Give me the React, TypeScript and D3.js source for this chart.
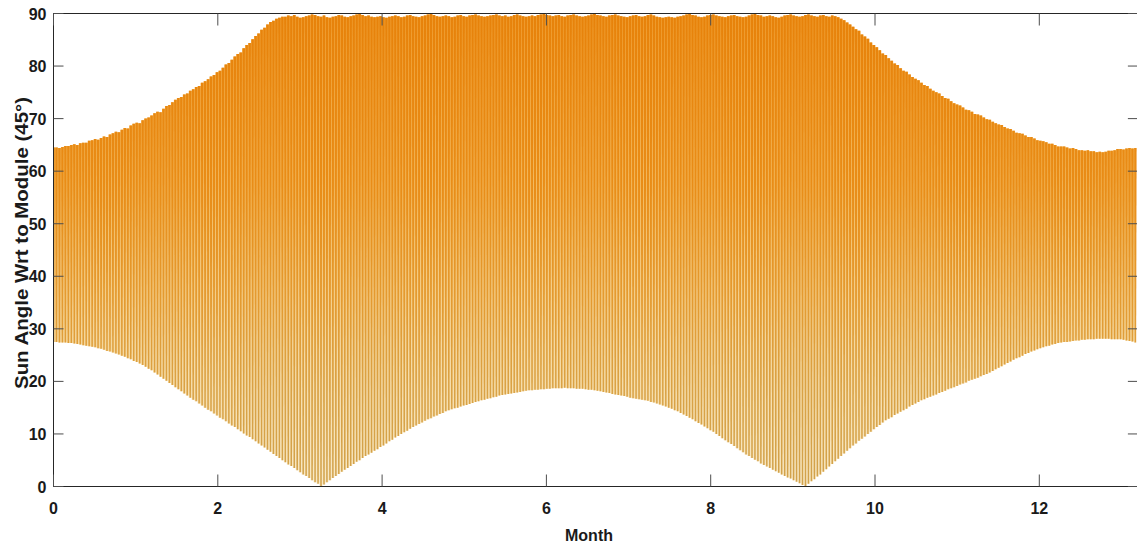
import React from 'react';
import * as d3 from 'd3';

// month axis and angle axis
const xTicks = [0, 2, 4, 6, 8, 10, 12];
const yTicks = [0, 10, 20, 30, 40, 50, 60, 70, 80, 90];
const monthMax = 13.2;
const lastSampleMonth = 13.17;

// daily peak sun angle (deg)
const upperAngle = [
  64.5, 64.5, 64.4, 64.6, 64.8, 64.8, 65.0,
  65.1, 65.0, 65.3, 65.4, 65.4, 65.8, 65.9,
  66.1, 66.0, 66.3, 66.6, 66.5, 67.0, 67.2,
  67.5, 67.4, 67.9, 68.2, 68.1, 68.7, 69.0,
  69.2, 69.1, 69.7, 70.0, 70.2, 70.6, 71.0,
  71.3, 71.2, 71.9, 72.4, 72.6, 73.1,
  73.6, 73.9, 74.1, 74.6, 74.8, 75.3, 75.6,
  76.0, 76.2, 76.8, 77.1, 77.5, 78.0, 78.3,
  78.8, 79.1, 79.7, 80.3, 80.6, 81.2, 81.8,
  82.3, 82.6, 83.4, 84.0, 84.4, 85.1, 85.7,
  86.2, 86.9, 87.3, 87.9, 88.4, 88.6,
  89.0, 89.2, 89.4, 89.4,
  89.6, 89.5, 89.7, 89.4, 89.2, 89.3, 89.5, 89.6, 89.8, 89.7,
  89.5, 89.4, 89.6, 89.3, 89.2, 89.4, 89.5, 89.7, 89.6, 89.4,
  89.3, 89.5, 89.6, 89.8, 89.9, 89.7, 89.5, 89.6, 89.4, 89.3,
  89.4, 89.5, 89.3, 89.2, 89.4, 89.5, 89.6, 89.5, 89.3, 89.4,
  89.6, 89.7, 89.5, 89.4, 89.3, 89.5, 89.6, 89.8, 89.9, 89.7,
  89.5, 89.4, 89.5, 89.6, 89.5, 89.3, 89.4, 89.6, 89.7, 89.5,
  89.4, 89.6, 89.7, 89.8, 89.6, 89.5, 89.4, 89.5, 89.6, 89.7,
  89.8, 89.6, 89.5, 89.6, 89.4, 89.5, 89.7, 89.8, 89.6, 89.5,
  89.4, 89.5, 89.6, 89.5, 89.7, 89.8, 89.9, 89.7, 89.6, 89.5,
  89.6, 89.7, 89.5, 89.4, 89.6, 89.7, 89.8, 89.6, 89.5, 89.4,
  89.5, 89.6, 89.8, 89.9, 89.7, 89.6, 89.5, 89.4, 89.6, 89.7,
  89.8, 89.6, 89.5, 89.4, 89.3, 89.5, 89.6, 89.7, 89.5, 89.4,
  89.5, 89.7, 89.8, 89.6, 89.4, 89.3, 89.2, 89.3, 89.4, 89.3,
  89.2, 89.4, 89.5, 89.6, 89.8, 89.9, 89.7, 89.6, 89.4, 89.3,
  89.4, 89.6, 89.7, 89.8, 89.6, 89.5, 89.4, 89.3, 89.5, 89.6,
  89.7, 89.5, 89.4, 89.3, 89.4, 89.6, 89.8, 89.9, 89.7, 89.6,
  89.4, 89.5, 89.6, 89.5, 89.3, 89.2, 89.4, 89.6, 89.7, 89.8,
  89.6, 89.5, 89.4, 89.5, 89.7, 89.8, 89.6, 89.5, 89.4, 89.6,
  89.7, 89.5, 89.4, 89.6, 89.5, 89.3, 89.0,
  88.7, 88.3, 87.9,
  87.5, 87.0, 86.7, 86.0, 85.6, 85.2, 84.5,
  84.0, 83.6, 83.0, 82.4, 82.1, 81.5, 81.0,
  80.5, 80.2, 79.6, 79.1, 78.9, 78.4, 77.9,
  77.6, 77.3, 76.8, 76.4, 76.2, 75.7, 75.3,
  75.0, 74.8, 74.3, 73.9, 73.8, 73.3, 72.9,
  72.7, 72.5, 72.1, 71.7, 71.6, 71.3, 70.9,
  70.8, 70.6, 70.2, 69.9, 69.8, 69.4, 69.1,
  68.9, 68.8, 68.4, 68.1, 68.0, 67.7, 67.3,
  67.2, 67.1, 66.8, 66.5, 66.5, 66.2, 65.9,
  65.8, 65.7, 65.5, 65.2, 65.2, 65.0, 64.7,
  64.7, 64.7, 64.5, 64.3, 64.4, 64.2, 64.0,
  64.0, 63.9, 64.0, 63.8, 63.8, 63.6,
  63.7, 63.6, 63.7, 63.9, 63.9, 64.0, 64.2,
  64.2, 64.1, 64.3, 64.4, 64.3, 64.4,
];

// daily low sun angle (deg)
const lowerAngle = [
  27.5, 27.5, 27.4, 27.4, 27.4, 27.3, 27.3,
  27.2, 27.1, 27.0, 26.9, 26.8, 26.7, 26.6,
  26.5, 26.3, 26.2, 26.0, 25.8, 25.7, 25.5,
  25.3, 25.1, 24.9, 24.7, 24.4, 24.2, 23.9,
  23.7, 23.4, 23.1, 22.8, 22.4, 22.1, 21.7, 21.3,
  20.9, 20.5, 20.1, 19.7, 19.3,
  18.9, 18.5, 18.1, 17.7, 17.3, 16.9, 16.5, 16.2,
  15.8, 15.4, 15.0, 14.6, 14.3, 13.9,
  13.5, 13.1, 12.8, 12.4, 12.0, 11.6, 11.3,
  10.9, 10.5, 10.1, 9.7, 9.4, 9.0, 8.6,
  8.2, 7.8, 7.4, 7.0, 6.6, 6.2, 5.8,
  5.4, 5.0, 4.6, 4.2, 3.9, 3.5, 3.1,
  2.7, 2.3, 2.0, 1.6, 1.2, 0.8, 0.5,
  0.1, 0.4, 0.8, 1.2, 1.6, 2.0, 2.4,
  2.8, 3.2, 3.5, 3.9, 4.3, 4.7, 5.0,
  5.4, 5.8, 6.1, 6.4, 6.8, 7.1, 7.5,
  7.8, 8.2, 8.6, 8.9, 9.3, 9.6,
  10.0, 10.3, 10.6, 11.0, 11.3, 11.6, 11.9,
  12.2, 12.5, 12.8, 13.0, 13.3, 13.5, 13.8, 14.0, 14.3,
  14.5, 14.7, 14.9, 15.0, 15.2, 15.4, 15.5, 15.7,
  15.9, 16.1, 16.2, 16.4, 16.5, 16.7, 16.8, 17.0, 17.1,
  17.3, 17.4, 17.5, 17.6, 17.7, 17.8, 17.9, 18.0, 18.1, 18.2,
  18.3, 18.3, 18.4, 18.4, 18.5, 18.5, 18.6, 18.6, 18.7,
  18.7, 18.7, 18.7, 18.8, 18.7, 18.7, 18.7, 18.6,
  18.6, 18.6, 18.5, 18.4, 18.4, 18.3, 18.2, 18.1,
  18.0, 17.9, 17.8, 17.6, 17.5, 17.4,
  17.3, 17.2, 17.1, 16.9,
  16.8, 16.7, 16.6, 16.5, 16.4, 16.3, 16.1,
  16.0, 15.8, 15.6, 15.4, 15.2,
  15.0, 14.8, 14.5, 14.3, 14.0, 13.7,
  13.4, 13.1, 12.8, 12.4, 12.1,
  11.8, 11.4, 11.1, 10.7, 10.4, 10.0,
  9.6, 9.2, 8.8, 8.4, 8.1,
  7.7, 7.3, 6.9, 6.5, 6.1, 5.8,
  5.4, 5.1, 4.8, 4.4, 4.1, 3.8, 3.5,
  3.2, 2.9, 2.6, 2.3, 2.0, 1.7, 1.5,
  1.2, 0.9, 0.6, 0.3,
  0.1, 0.5, 1.0, 1.4, 1.9, 2.3, 2.8,
  3.3, 3.8, 4.3, 4.8, 5.3, 5.8, 6.3, 6.8, 7.3,
  7.8, 8.2, 8.7, 9.1, 9.5, 10.0, 10.4, 10.9, 11.3, 11.7, 12.2,
  12.6, 12.9, 13.2, 13.6, 13.9, 14.2, 14.5, 14.8, 15.2, 15.5, 15.8, 16.1,
  16.4, 16.6, 16.9, 17.1, 17.3, 17.5, 17.8, 18.0, 18.2, 18.5, 18.7,
  18.9, 19.1, 19.4, 19.6, 19.8, 20.1, 20.3, 20.5, 20.7, 21.0, 21.2,
  21.4, 21.7, 22.0, 22.3, 22.6, 22.9, 23.2, 23.5, 23.8, 24.1, 24.4,
  24.6, 24.9, 25.2, 25.4, 25.7, 25.9, 26.1,
  26.3, 26.5, 26.7, 26.8, 27.0, 27.1, 27.3,
  27.4, 27.5, 27.5, 27.6, 27.7, 27.8, 27.8,
  27.9, 27.9, 28.0, 28.0, 28.0, 28.1,
  28.1, 28.1, 28.1, 28.1, 28.0, 28.0, 28.0,
  28.0, 27.9, 27.8, 27.7, 27.6, 27.4,
];

const font = '"Liberation Sans", Arial, Helvetica, sans-serif';

export default function App() {
  const width = 1137;
  const height = 547;
  const left = 53.5, top = 13.5, bottom = 486.5;
  const right = left + monthMax * 82.15;

  const x = d3.scaleLinear().domain([0, monthMax]).range([left, right]);
  const y = d3.scaleLinear().domain([0, 90]).range([bottom, top]);

  const n = Math.min(upperAngle.length, lowerAngle.length);
  const step = lastSampleMonth / (n - 1);
  const days = d3.range(n).map(i => ({ month: i * step, lo: lowerAngle[i], hi: upperAngle[i] }));
  const dx = x(step) - x(0);

  const band = d3.area<any>()
    .x(d => x(d.month))
    .y0(d => y(d.lo))
    .y1(d => y(d.hi))
    .curve(d3.curveStep);

  // each day drawn as a thin spike from the low to the peak angle
  const wTop = dx * 0.8;
  const wBot = dx * 0.5;
  const spike = (d: any) => {
    const cx = x(d.month);
    const yl = y(d.lo), yh = y(d.hi);
    return `M${cx - wBot / 2},${yl}L${cx - wTop / 2},${yh}L${cx + wTop / 2},${yh}L${cx + wBot / 2},${yl}Z`;
  };

  return (
    <svg width={width} height={height} style={{ position: 'absolute', left: 0, top: 0, background: '#fff' }}>
      <defs>
        <linearGradient id="barFill" gradientUnits="userSpaceOnUse" x1="0" x2="0" y1={top} y2={bottom}>
          <stop offset="0%" stopColor="#e7820a" />
          <stop offset="35%" stopColor="#e98c16" />
          <stop offset="60%" stopColor="#e49a30" />
          <stop offset="80%" stopColor="#d9a246" />
          <stop offset="100%" stopColor="#d1a24c" />
        </linearGradient>
        <linearGradient id="gapFill" gradientUnits="userSpaceOnUse" x1="0" x2="0" y1={top} y2={bottom}>
          <stop offset="0%" stopColor="#f2a63c" />
          <stop offset="40%" stopColor="#f3bc62" />
          <stop offset="70%" stopColor="#f5d89e" />
          <stop offset="100%" stopColor="#f8e9c6" />
        </linearGradient>
        <clipPath id="plotClip">
          <rect x={left} y={top - 1} width={right - left} height={bottom - top + 1} />
        </clipPath>
      </defs>

      <g clipPath="url(#plotClip)">
        <path d={band(days) as string} fill="url(#gapFill)" />
        {days.map((d, i) => (
          <path key={i} d={spike(d)} fill="url(#barFill)" />
        ))}
      </g>

      {/* box */}
      <rect x={left} y={top} width={right - left} height={bottom - top} fill="none" stroke="#262626" strokeWidth={1} />

      {/* x ticks, top and bottom */}
      {xTicks.map(t => (
        <g key={'x' + t}>
          <line x1={x(t)} x2={x(t)} y1={bottom} y2={bottom - 12} stroke="#4d4d4d" />
          <line x1={x(t)} x2={x(t)} y1={top} y2={top + 12} stroke="#4d4d4d" />
          <text x={x(t)} y={514} textAnchor="middle" fontFamily={font} fontWeight="bold" fontSize={16} fill="#1a1a1a">{t}</text>
        </g>
      ))}

      {/* y ticks, left and right */}
      {yTicks.map(t => (
        <g key={'y' + t}>
          <line x1={left} x2={left + 10} y1={y(t)} y2={y(t)} stroke="#4d4d4d" />
          <line x1={right} x2={right - 10} y1={y(t)} y2={y(t)} stroke="#4d4d4d" />
          <text x={46.5} y={y(t) + 6} textAnchor="end" fontFamily={font} fontWeight="bold" fontSize={16} fill="#1a1a1a">{t}</text>
        </g>
      ))}

      <text x={589} y={541} textAnchor="middle" fontFamily={font} fontWeight="bold" fontSize={16} fill="#1a1a1a">Month</text>
      <text transform="translate(27.5,243) rotate(-90)" textAnchor="middle" fontFamily={font} fontWeight="bold" fontSize={18}
        textLength={292} lengthAdjust="spacingAndGlyphs" fill="#1a1a1a">Sun Angle Wrt to Module (45°)</text>
    </svg>
  );
}
